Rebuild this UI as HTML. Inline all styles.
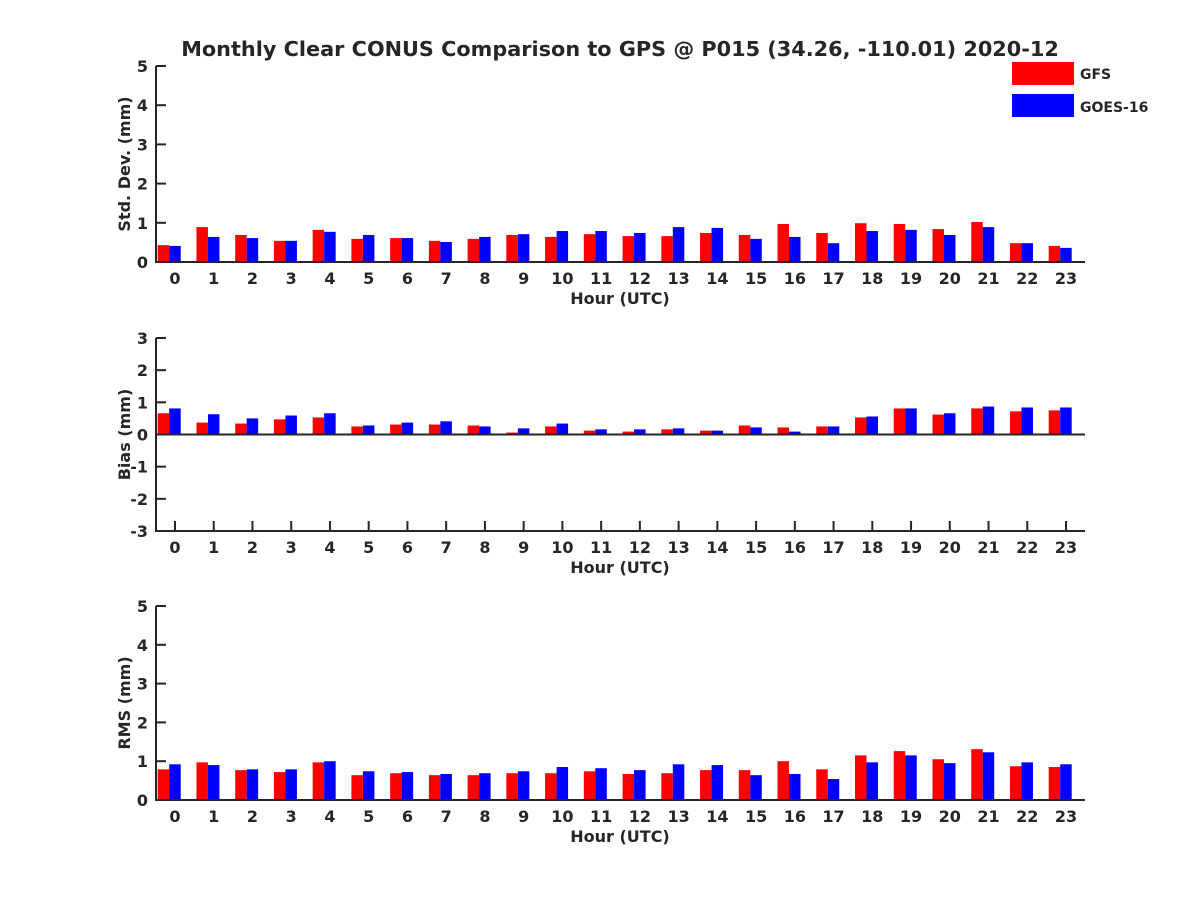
<!DOCTYPE html>
<html><head><meta charset="utf-8"><style>
body{margin:0;background:#fff;}
svg text{font-family:"DejaVu Sans","Liberation Sans",sans-serif;font-weight:bold;fill:#262626;}
</style></head><body>
<svg id="chart" width="1200" height="900" xmlns="http://www.w3.org/2000/svg">
<rect width="1200" height="900" fill="#fff"/>
<text x="620" y="56" font-size="20.8" text-anchor="middle">Monthly Clear CONUS Comparison to GPS @ P015 (34.26, -110.01) 2020-12</text>
<g>
<rect x="1012" y="62" width="62" height="23" fill="#ff0000"/>
<text x="1080" y="79" font-size="14">GFS</text>
<rect x="1012" y="94" width="62" height="23" fill="#0000ff"/>
<text x="1080" y="112" font-size="14">GOES-16</text>
</g>
</svg>
<script>
const hours = [0,1,2,3,4,5,6,7,8,9,10,11,12,13,14,15,16,17,18,19,20,21,22,23];
const stdGfs  = [0.43,0.89,0.69,0.54,0.82,0.59,0.61,0.54,0.59,0.69,0.64,0.71,0.66,0.66,0.74,0.69,0.97,0.74,0.99,0.97,0.84,1.02,0.48,0.41];
const stdGoes = [0.41,0.64,0.61,0.54,0.77,0.69,0.61,0.51,0.64,0.71,0.79,0.79,0.74,0.89,0.87,0.59,0.64,0.48,0.79,0.82,0.69,0.89,0.48,0.36];
const biasGfs  = [0.66,0.37,0.34,0.47,0.53,0.25,0.31,0.31,0.28,0.06,0.25,0.12,0.09,0.16,0.12,0.28,0.22,0.25,0.53,0.81,0.62,0.81,0.72,0.75];
const biasGoes = [0.81,0.63,0.50,0.59,0.66,0.28,0.37,0.41,0.25,0.19,0.34,0.16,0.16,0.19,0.12,0.22,0.09,0.25,0.56,0.81,0.66,0.87,0.84,0.84];
const rmsGfs  = [0.79,0.97,0.77,0.72,0.97,0.64,0.69,0.64,0.64,0.69,0.69,0.74,0.67,0.69,0.77,0.77,1.00,0.79,1.15,1.26,1.05,1.31,0.87,0.85];
const rmsGoes = [0.92,0.90,0.79,0.79,1.00,0.74,0.72,0.67,0.69,0.74,0.85,0.82,0.77,0.92,0.90,0.64,0.67,0.54,0.97,1.15,0.95,1.23,0.97,0.92];
const stdTicks = [0,1,2,3,4,5];
const biasTicks = [-3,-2,-1,0,1,2,3];
const rmsTicks = [0,1,2,3,4,5];

const svg = document.getElementById('chart');
const NS = 'http://www.w3.org/2000/svg';
function mk(tag, attrs){const e=document.createElementNS(NS,tag);for(const k in attrs)e.setAttribute(k,attrs[k]);svg.appendChild(e);return e;}
const X0=156, X1=1085;
function xScale(h){return 175 + (h-hours[0])*(1066-175)/(hours[hours.length-1]-hours[0]);}
const BW=11.5;

function panel(key, top, bottom, ymin, ymax, ticks, gfs, goes, ylabel){
  const y=v=>bottom-(v-ymin)*(bottom-top)/(ymax-ymin);
  const base=y(Math.max(ymin,0));
  hours.forEach(h=>{
    const cx=xScale(h);
    mk('line',{x1:cx,y1:bottom,x2:cx,y2:bottom-10,stroke:'#262626','stroke-width':2});
    const tx=mk('text',{x:cx,y:bottom+22,'font-size':16,'text-anchor':'middle'});
    tx.textContent=h;
    
    
  });
  hours.forEach((h,i)=>{
    const cx=xScale(h)-5.8;
    const a=y(gfs[i]), b=y(goes[i]);
    const r=mk('rect',{x:cx-BW,y:Math.min(a,base),width:BW,height:Math.abs(base-a),fill:'#ff0000'});
    
    
    const q=mk('rect',{x:cx,y:Math.min(b,base),width:BW,height:Math.abs(base-b),fill:'#0000ff'});
    
    
  });
  const ya=mk('line',{x1:X0,y1:top,x2:X0,y2:bottom+1,stroke:'#262626','stroke-width':2});
  
  
  const xa=mk('line',{x1:X0,y1:bottom,x2:X1,y2:bottom,stroke:'#262626','stroke-width':2});
  
  
  if(ymin<0){
    const z=mk('line',{x1:X0,y1:base,x2:X1,y2:base,stroke:'#262626','stroke-width':2});
    
    
  }
  ticks.forEach(t=>{
    const ty=y(t);
    mk('line',{x1:X0,y1:ty,x2:X0+10,y2:ty,stroke:'#262626','stroke-width':2});
    const tx=mk('text',{x:X0-8,y:ty+6,'font-size':16,'text-anchor':'end'});
    tx.textContent=t;
    
    
  });
  const xt=mk('text',{x:620,y:bottom+42,'font-size':16,'text-anchor':'middle'});
  xt.textContent='Hour (UTC)';
  
  
  const cy=(top+bottom)/2;
  const yt=mk('text',{x:130,y:cy,'font-size':16,'text-anchor':'middle',transform:'rotate(-90 130 '+cy+')'});
  yt.textContent=ylabel;
  
  
}
panel('std',66,262,0,5,stdTicks,stdGfs,stdGoes,'Std. Dev. (mm)');
panel('bias',338,531,-3,3,biasTicks,biasGfs,biasGoes,'Bias (mm)');
panel('rms',606,800,0,5,rmsTicks,rmsGfs,rmsGoes,'RMS (mm)');
</script>
</body></html>
